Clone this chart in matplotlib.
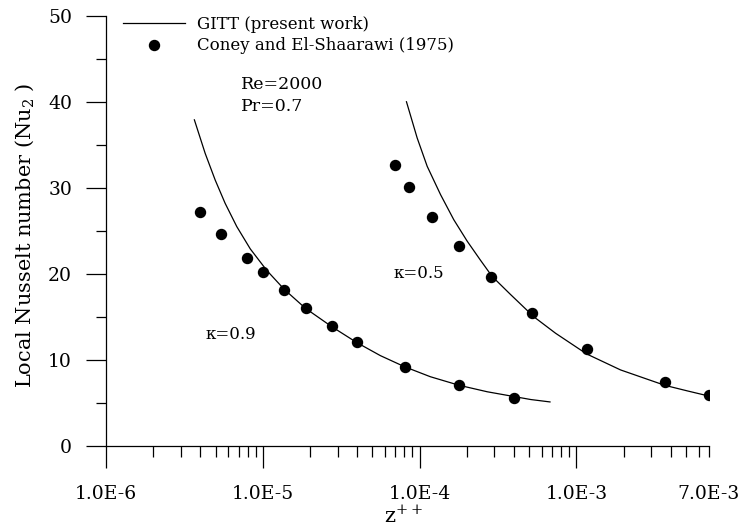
import numpy as np
import matplotlib
matplotlib.use("Agg")
import matplotlib.pyplot as plt
from matplotlib.ticker import FixedLocator, NullFormatter

plt.rcParams['font.family'] = ['DejaVu Serif']
plt.rcParams['mathtext.fontset'] = 'dejavuserif'

# ---- data ----
# GITT curves (present work)
gitt09_z = [3.66e-6, 4.29e-6, 4.97e-6, 5.75e-6, 6.82e-6, 8.32e-6, 1.06e-5, 1.37e-5,
            1.87e-5, 2.76e-5, 3.99e-5, 5.62e-5, 8.04e-5, 1.17e-4, 1.79e-4, 2.70e-4,
            5.11e-4, 6.78e-4]
gitt09_nu = [37.9, 34.0, 30.9, 28.2, 25.5, 22.9, 20.4, 18.2,
             16.0, 13.85, 12.0, 10.5, 9.2, 8.05, 7.05, 6.3,
             5.4, 5.12]

gitt05_z = [8.24e-5, 9.64e-5, 1.117e-4, 1.36e-4, 1.65e-4, 2.01e-4, 2.44e-4, 2.90e-4,
            3.80e-4, 5.36e-4, 7.36e-4, 1.16e-3, 1.91e-3, 3.66e-3, 5.1e-3, 7.0e-3]
gitt05_nu = [40.0, 35.8, 32.5, 29.2, 26.3, 23.8, 21.6, 19.7,
             17.6, 15.0, 13.1, 10.7, 8.84, 7.05, 6.4, 5.8]

# Coney and El-Shaarawi (1975)
coney09_z = [3.98e-6, 5.42e-6, 7.91e-6, 1.006e-5, 1.37e-5, 1.88e-5, 2.75e-5,
             3.99e-5, 8.04e-5, 1.79e-4, 3.99e-4]
coney09_nu = [27.2, 24.6, 21.8, 20.2, 18.1, 16.0, 13.9, 12.06, 9.2, 7.05, 5.54]

coney05_z = [6.97e-5, 8.57e-5, 1.20e-4, 1.79e-4, 2.85e-4, 5.17e-4, 1.16e-3,
             3.66e-3, 6.95e-3]
coney05_nu = [32.7, 30.1, 26.6, 23.2, 19.6, 15.5, 11.3, 7.44, 5.89]

xticks_labeled = [1e-6, 1e-5, 1e-4, 1e-3, 7e-3]
xtick_labels = ['1.0E-6', '1.0E-5', '1.0E-4', '1.0E-3', '7.0E-3']
yticks_major = [0, 10, 20, 30, 40, 50]
yticks_minor = [5, 15, 25, 35, 45]

# ---- figure ----
W, H = 743, 529
fig = plt.figure(figsize=(W / 100, H / 100), dpi=100)
ax = fig.add_axes([106 / W, 1 - 446 / H, (709 - 106) / W, (446 - 15.7) / H])

FS_TICK = 13.5
FS_LAB = 15
FS_LEG = 12

ax.plot(gitt09_z, gitt09_nu, color='black', lw=0.9, label='GITT (present work)')
ax.plot(gitt05_z, gitt05_nu, color='black', lw=0.9)
ax.plot(coney09_z, coney09_nu, 'o', color='black', ms=7.2, ls='none',
        label='Coney and El-Shaarawi (1975)')
ax.plot(coney05_z, coney05_nu, 'o', color='black', ms=7.2, ls='none')

ax.set_xscale('log')
ax.set_xlim(1e-6, 7e-3)
ax.set_ylim(0, 50)

for s in ['top', 'right']:
    ax.spines[s].set_visible(False)
for s in ['left', 'bottom']:
    ax.spines[s].set_linewidth(0.9)

# x ticks
minor_x = []
for d in [1e-6, 1e-5, 1e-4]:
    minor_x += [k * d for k in range(2, 10)]
minor_x += [k * 1e-3 for k in range(2, 7)]
ax.xaxis.set_major_locator(FixedLocator(xticks_labeled))
ax.xaxis.set_minor_locator(FixedLocator(minor_x))
ax.set_xticklabels(xtick_labels)
ax.xaxis.set_minor_formatter(NullFormatter())
ax.tick_params(axis='x', which='major', direction='out', length=16, width=0.9,
               pad=12, labelsize=FS_TICK)
ax.tick_params(axis='x', which='minor', direction='out', length=8, width=0.9)
# last labelled tick (7.0E-3) drawn with minor length
last = ax.xaxis.get_major_ticks()[-1]
last.tick1line.set_markersize(8)
last.label1.set_y(0)
last_pad_shift = 0

# y ticks
ax.set_yticks(yticks_major)
ax.set_yticks(yticks_minor, minor=True)
ax.tick_params(axis='y', which='major', direction='out', length=14.4, width=0.9,
               pad=10, labelsize=FS_TICK)
ax.tick_params(axis='y', which='minor', direction='out', length=7.2, width=0.9)

ax.set_ylabel('Local Nusselt number (Nu$_2$ )', fontsize=FS_LAB)
ax.yaxis.set_label_coords(-0.116, 0.49)
ax.set_xlabel('z$^{++}$', fontsize=FS_LAB)
ax.xaxis.set_label_coords(0.4925, -0.138)

# annotations
ax.text(7.28e-6, 42.0, 'Re=2000', fontsize=12.5, va='center', ha='left')
ax.text(7.28e-6, 39.4, 'Pr=0.7', fontsize=12.5, va='center', ha='left')
ax.text(4.29e-6, 12.9, '\u03ba=0.9', fontsize=12, va='center', ha='left')
ax.text(6.8e-5, 20.0, '\u03ba=0.5', fontsize=12, va='center', ha='left')

leg = ax.legend(loc='upper left', bbox_to_anchor=(123 / W, 1 - 16 / H),
                bbox_transform=fig.transFigure, frameon=False, fontsize=FS_LEG,
                handlelength=3.7, handletextpad=0.75, borderpad=0,
                labelspacing=0.27, borderaxespad=0)

fig.savefig('out.png', dpi=100)
